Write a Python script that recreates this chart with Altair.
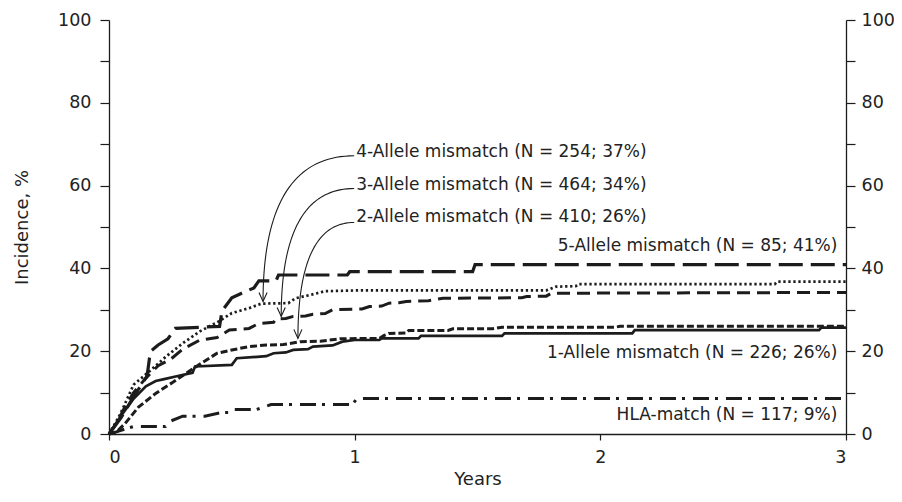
import altair as alt
import pandas as pd
import numpy as np

# ---------------- data ----------------
hla_x = [0, 0.03, 0.08, 0.10, 0.23, 0.25, 0.30, 0.39, 0.46, 0.50, 0.51, 0.60, 0.66, 0.99, 1.01, 3.0]
hla_y = [0, 0.5, 1.5, 1.8, 1.8, 3.1, 4.3, 4.3, 5.2, 5.2, 5.9, 5.9, 7.1, 7.1, 8.6, 8.6]

a1_x = [0, 0.05, 0.10, 0.15, 0.19, 0.22, 0.28, 0.34, 0.35, 0.50, 0.52, 0.64, 0.67, 0.72, 0.75, 0.81,
        0.83, 0.91, 0.95, 1.00, 1.10, 1.11, 1.26, 1.27, 1.60, 1.61, 2.13, 2.14, 2.89, 2.90, 3.0]
a1_y = [0, 4.5, 8.5, 11.5, 12.8, 13.2, 14.0, 14.8, 16.3, 16.7, 18.3, 18.8, 19.5, 19.7, 20.3, 20.5,
        21.1, 21.4, 22.3, 22.7, 22.7, 23.1, 23.1, 23.7, 23.7, 24.3, 24.3, 25.1, 25.1, 25.7, 25.7]

a2_x = [0, 0.03, 0.065, 0.12, 0.19, 0.26, 0.31, 0.36, 0.44, 0.50, 0.57, 0.64, 0.71, 0.78, 0.86, 0.94,
        1.10, 1.12, 1.14, 1.21, 1.22, 1.38, 1.40, 1.56, 1.60, 2.06, 2.08, 3.0]
a2_y = [0, 0.5, 2.5, 6.5, 9.8, 12.5, 14.5, 16.5, 19.5, 20.3, 21.1, 21.5, 21.6, 22.3, 22.4, 23.0,
        23.1, 23.8, 24.3, 24.4, 25.0, 25.0, 25.4, 25.4, 25.8, 25.8, 26.0, 26.0]

a3_x = [0, 0.03, 0.06, 0.10, 0.15, 0.20, 0.25, 0.30, 0.37, 0.44, 0.49, 0.57, 0.61, 0.67, 0.68, 0.72,
        0.75, 0.80, 0.83, 0.88, 0.91, 1.03, 1.06, 1.11, 1.14, 1.18, 1.21, 1.30, 1.36, 1.68, 1.70, 1.78,
        1.80, 3.0]
a3_y = [0, 2.5, 6.0, 10.0, 13.5, 16.5, 18.0, 20.5, 22.7, 23.3, 25.1, 25.5, 26.7, 27.0, 27.8, 27.9,
        28.4, 28.5, 28.9, 29.1, 30.0, 30.2, 30.8, 30.9, 31.6, 31.7, 32.0, 32.2, 32.8, 32.9, 33.2, 33.3,
        34.0, 34.2]

a4_x = [0, 0.045, 0.10, 0.166, 0.234, 0.30, 0.37, 0.45, 0.50, 0.57, 0.62, 0.73, 0.76, 0.82, 0.88,
        1.02, 1.78, 1.82, 1.90, 1.91, 2.71, 2.72, 3.0]
a4_y = [0, 4.7, 11.9, 15.2, 18.8, 21.9, 24.8, 27.3, 29.2, 30.4, 31.5, 31.6, 32.8, 33.6, 34.5,
        34.7, 34.7, 35.6, 35.7, 36.2, 36.2, 36.8, 36.8]

a5_x = [0, 0.05, 0.10, 0.155, 0.165, 0.17, 0.20, 0.24, 0.27, 0.45, 0.46, 0.50, 0.54, 0.59, 0.61,
        0.68, 0.69, 0.97, 0.98, 1.48, 1.49, 3.0]
a5_y = [0, 4.0, 9.0, 14.0, 18.4, 20.0, 21.5, 23.0, 25.5, 26.0, 29.7, 32.9, 34.0, 35.3, 37.0,
        37.0, 38.4, 38.4, 39.2, 39.2, 40.9, 40.9]

# labels
right_labels = ["5-Allele mismatch (N = 85; 41%)", "1-Allele mismatch (N = 226; 26%)", "HLA-match (N = 117; 9%)"]
right_label_x = [2.965, 2.965, 2.965]
right_label_y = [45.4, 19.5, 4.6]

left_labels = ["4-Allele mismatch (N = 254; 37%)", "3-Allele mismatch (N = 464; 34%)", "2-Allele mismatch (N = 410; 26%)"]
left_label_x = [1.006, 1.006, 1.006]
left_label_y = [68.0, 60.2, 52.5]

# arrows: start (next to label) and tip (on the curve)
arrow_start_x = [0.998, 0.998, 0.998]
arrow_start_y = [67.2, 59.3, 51.1]
arrow_end_x = [0.627, 0.701, 0.769]
arrow_end_y = [32.0, 28.4, 23.1]

y_ticks = list(range(0, 101, 10))
x_ticks = [0, 1, 2, 3]

FONT = "DejaVu Sans"
INK = "#1c1c1c"
TXT = "#222222"

xscale = alt.Scale(domain=[0, 3], nice=False, zero=False)
yscale = alt.Scale(domain=[0, 100], nice=False)

x_axis = alt.Axis(values=x_ticks, format="d", title="Years", tickSize=6, labelPadding=8,
                  titlePadding=5, grid=False)
y_axis_left = alt.Axis(values=y_ticks, labelExpr="datum.value % 20 == 0 ? datum.label : ''",
                       title="Incidence, %", tickSize=9, labelPadding=9, titlePadding=26,
                       grid=False, orient="left")
y_axis_right = alt.Axis(values=y_ticks, labelExpr="datum.value % 20 == 0 ? datum.label : ''",
                        title=None, tickSize=9, labelPadding=6, grid=False, orient="right")


def enc_xy(yax=None):
    return dict(
        x=alt.X("x:Q", scale=xscale, axis=x_axis),
        y=alt.Y("y:Q", scale=yscale, axis=yax),
    )


def curve(xs, ys, dash, width, yax=None):
    df = pd.DataFrame({"x": xs, "y": ys, "i": list(range(len(xs)))})
    mk = dict(color=INK, strokeWidth=width, strokeCap="butt")
    if dash:
        mk["strokeDash"] = dash
    return alt.Chart(df).mark_line(**mk).encode(order="i:Q", **enc_xy(yax))


layers = [
    curve(hla_x, hla_y, [16, 6, 3, 8], 3.0, yax=y_axis_left),
    curve(a1_x, a1_y, None, 2.7, yax=y_axis_right),
    curve(a2_x, a2_y, [7, 3], 3.0),
    curve(a3_x, a3_y, [13, 7], 3.0),
    curve(a4_x, a4_y, [2.3, 2.7], 2.7),
    curve(a5_x, a5_y, [24, 8], 3.2),
]

# curved leader arrows (quadratic path from label to curve)
t = np.linspace(0, 1, 40)
rows = []
for k in range(3):
    x0, y0 = arrow_start_x[k], arrow_start_y[k]
    x2, y2 = arrow_end_x[k], arrow_end_y[k]
    x1, y1 = x2, y0
    for j, tt in enumerate(t):
        rows.append({
            "k": k, "i": j,
            "x": (1 - tt) ** 2 * x0 + 2 * (1 - tt) * tt * x1 + tt ** 2 * x2,
            "y": (1 - tt) ** 2 * y0 + 2 * (1 - tt) * tt * y1 + tt ** 2 * y2,
        })
arrow_df = pd.DataFrame(rows)
arrows = alt.Chart(arrow_df).mark_line(color=INK, strokeWidth=1.1).encode(
    detail="k:N", order="i:Q", **enc_xy()
)
heads = alt.Chart(pd.DataFrame({"x": arrow_end_x, "y": arrow_end_y})).mark_point(
    shape="M-0.45,-1L0,0L0.45,-1", size=324, filled=False, color=INK, strokeWidth=1.1, opacity=1
).encode(**enc_xy())

ltext = alt.Chart(pd.DataFrame({"x": left_label_x, "y": left_label_y, "t": left_labels})).mark_text(
    align="left", baseline="middle", font=FONT, fontSize=17, color=TXT
).encode(text="t:N", **enc_xy())
rtext = alt.Chart(pd.DataFrame({"x": right_label_x, "y": right_label_y, "t": right_labels})).mark_text(
    align="right", baseline="middle", font=FONT, fontSize=17, color=TXT
).encode(text="t:N", **enc_xy())

chart = alt.layer(*layers, arrows, heads, ltext, rtext).resolve_axis(y="independent").properties(
    width=737, height=414,
    autosize=alt.AutoSizeParams(type="none"),
    padding={"left": 101, "top": 12, "right": 48, "bottom": 56},
).configure_view(stroke=None).configure_axis(
    labelFont=FONT, titleFont=FONT, labelFontSize=17.5, titleFontSize=18,
    titleFontWeight="normal", labelColor=TXT, titleColor=TXT,
    domainColor=INK, tickColor=INK, domainWidth=1.3, tickWidth=1.2,
)

chart.save("out.html", embed_options={"renderer": "svg", "actions": False})
